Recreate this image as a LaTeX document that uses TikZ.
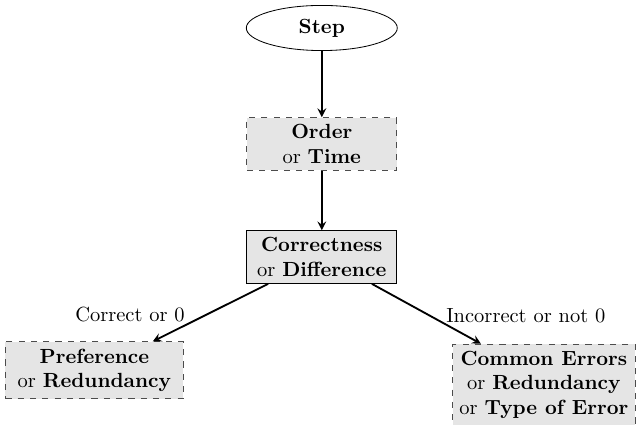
\documentclass[tikz,border=0pt]{standalone}
\usetikzlibrary{shapes.geometric}
\tikzset{dashbox/.style={draw=black!70, dashed, fill=gray!20, align=center, minimum width=2.57cm, minimum height=0.89cm}}
\tikzset{solidbox/.style={draw, fill=gray!20, align=center, minimum width=2.57cm, minimum height=0.89cm}}

\begin{document}
\begin{tikzpicture}[>=stealth]
  \useasboundingbox (0,0) rectangle (10.91,-7.29);
  \node[draw, ellipse, minimum width=2.59cm, minimum height=0.75cm] (step) at (5.52,-0.48) {\textbf{Step}};
  \node[dashbox] (order) at (5.52,-2.47) {\textbf{Order}\\or \textbf{Time}};
  \node[solidbox] (corr) at (5.52,-4.41) {\textbf{Correctness}\\or \textbf{Difference}};
  \node[dashbox, inner xsep=6pt] (pref) at (1.62,-6.35) {\textbf{Preference}\\or \textbf{Redundancy}};
  \node[dashbox] (comm) at (9.33,-6.60) {\textbf{Common Errors}\\or \textbf{Redundancy}\\or \textbf{Type of Error}};
  \node (lcorrect) at (2.23,-5.40) {Correct or 0};
  \node (lincorrect) at (9.02,-5.42) {Incorrect or not 0};
  \draw [->, line width=0.9pt] (step) -- (order);
  \draw [->, line width=0.9pt] (order) -- (corr);
  \draw [->, line width=0.9pt] ([xshift=-0.92cm]corr.south) -- ([xshift=1.0cm]pref.north);
  \draw [->, line width=0.9pt] ([xshift=0.86cm]corr.south) -- ([xshift=-1.08cm]comm.north);
\end{tikzpicture}
\end{document}
